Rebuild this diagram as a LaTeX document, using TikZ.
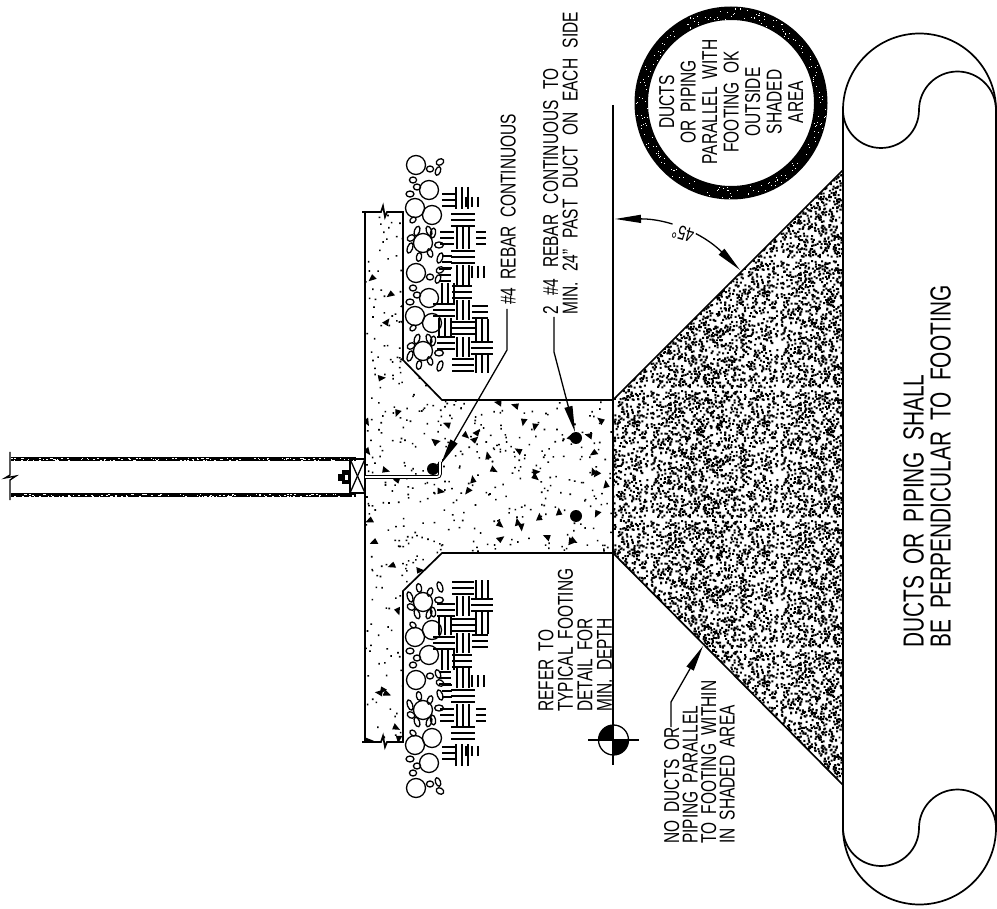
\documentclass[tikz,border=0pt]{standalone}
\usepackage{fontspec}
\setmainfont{Liberation Sans}[FakeStretch=0.72,WordSpace=1.9]
\usetikzlibrary{%
		arrows.meta%
		,patterns%
	}

\pgfdeclarepatternformonly{stipple}{\pgfqpoint{0pt}{0pt}}{\pgfqpoint{130pt}{130pt}}{\pgfqpoint{130pt}{130pt}}{
	\pgfmathsetseed{7}
	\foreach \i in {1,...,1650}{
		\pgfpathrectangle{\pgfpoint{rnd*128pt}{rnd*128pt}}{\pgfqpoint{2pt}{2pt}}
		\pgfusepath{fill}
	}
}

\tikzset{
	heavyline/.style={line width=1.7pt, line join=miter},
	thinline/.style={line width=1.3pt},
	note/.style={rotate=90, inner sep=0pt, anchor=south west, align=left, font=\fontsize{21.5}{19.5}\selectfont},
	bignote/.style={note, font=\fontsize{29}{27}\selectfont},
	leader/.style={thinline, -{Triangle[length=26pt,width=8pt]}},
	gravelbed/.pic={
		% stones, two rounds
		\foreach \s in {0,108}{
			\begin{scope}[yshift=-\s pt]
				\foreach \x/\y in {416/165,429/190,415/208,432/215,423/243}
					\draw[thinline] (\x,\y) circle (9.5);
				\foreach \x/\y/\rx/\ry/\a in {440/162/4/3/30,430/169/3.6/3/0,438/171/4.5/2.5/70,413/180/3.6/3/0,417/187/3.6/3/0,410/194/4/3/0,413/220/3.5/2.5/40,417/231/5/2.6/70,411/238/4/3/30,429/231/5/2.6/110,433/233/5/2.6/80,439/245/4.4/3/0,410/248/5.4/2.6/70,419/257/4.4/2.6/80,430/253/4.4/2.6/110,440/258/5.4/2.6/70}
					\draw[thinline, rotate around={\a:(\x,\y)}] (\x,\y) ellipse (\rx pt and \ry pt);
			\end{scope}
		}
		% woven layer
		\foreach \x/\y/\l in {463/220/12,463/257/12,462/292/10,444/310/11,480/312/8,463/328/12,446/343/9,482/348/11,463/365/11,447/238/7,481/238/5,449/200/7,447/262/5,445/275/6}{
			\draw[thinline] (\x-\l,\y-6) -- (\x+\l,\y-6);
			\draw[thinline] (\x-\l,\y) -- (\x+\l,\y);
			\draw[thinline] (\x-\l,\y+6) -- (\x+\l,\y+6);
		}
		\foreach \x/\y/\l in {462/198/11,463/238/11,463/275/10,448/293/10,463/310/10,445/328/10,482/330/11,463/347/10,482/364/9,472/202/5,478/272/6}{
			\draw[thinline] (\x-6,\y-\l) -- (\x-6,\y+\l);
			\draw[thinline] (\x,\y-\l) -- (\x,\y+\l);
			\draw[thinline] (\x+6,\y-\l) -- (\x+6,\y+\l);
		}
	}
}

\begin{document}
\begin{tikzpicture}[x=1pt, y=-1pt]
	\useasboundingbox (0,0) rectangle (997,909);
	\pgfmathsetseed{7}
	% shaded area under the footing
	\fill[pattern=stipple] (613,400) -- (843,170) -- (843,785) -- (613,553) -- cycle;
	\draw[heavyline] (613,400) -- (843,170);
	\draw[heavyline] (613,553) -- (843,785);
	% concrete
	\begin{scope}
		\clip (365,212) -- (403,212) -- (403,360) -- (442,400) -- (613,400) -- (613,553) -- (442,553) -- (403,591) -- (403,742) -- (365,742) -- cycle;
		\foreach \i in {1,...,55}
			\fill \foreach \j in {1,...,20} {(365+rnd*248,212+rnd*530) rectangle ++(1.6,1.6)};
		\foreach \i in {1,...,130}{
			\pgfmathsetmacro{\turn}{rnd*360}
			\pgfmathsetmacro{\px}{365+rnd*248}
			\pgfmathsetmacro{\py}{212+rnd*530}
			\fill[shift={(\px,\py)}, rotate=\turn] (-3.5,-3) -- (4.5,0) -- (-2.5,3.5) -- cycle;
		}
	\end{scope}
	% footing outline
	\draw[heavyline] (362,212) -- (381,212) -- (383,206) -- (385,217) -- (387,212) -- (403,212) -- (403,360) -- (442,400) -- (613,400);
	\draw[heavyline] (362,742) -- (381,742) -- (383,736) -- (385,747) -- (387,742) -- (403,742) -- (403,591) -- (442,553) -- (613,553);
	\draw[heavyline] (365,212) -- (365,742);
	% soil side
	\pic at (0,0) {gravelbed};
	\pic[yscale=-1] at (0,953) {gravelbed};
	% wall
	\fill (11,457) rectangle (356,461);
	\fill (11,493) rectangle (356,497);
	\foreach \i in {1,...,110}{
		\fill[white] (11+rnd*345,457.5+rnd*3) rectangle ++(1.6,0.8);
		\fill[white] (11+rnd*345,493.5+rnd*3) rectangle ++(1.6,0.8);
	}
	\draw[thinline] (10,452) -- (10,475) -- (5,478) -- (16,476) -- (10,480) -- (10,500);
	% sill plate
	\draw[thinline] (350,459) rectangle (365,493);
	\draw[thinline] (350,459) -- (365,493);
	\draw[thinline] (365,459) -- (350,493);
	\fill (349,470) rectangle (342,484);
	\fill (342,474) rectangle (338,481);
	\fill[white] (344.5,475) rectangle (348,480);
	% anchor bolt
	\draw[line width=1pt, double=white, double distance=1.6pt, rounded corners=3] (365,477) -- (440,477) -- (440,462);
	% rebar
	\fill (433,469) circle (6);
	\fill (576,438) circle (6);
	\fill (576,516) circle (6);
	% depth line
	\coordinate (depthtop) at (613,105);
	\coordinate (depthend) at (613,765);
	\draw[heavyline] (depthtop) -- (depthend);
	% section mark
	\coordinate (markcentre) at (613.5,740);
	\fill (markcentre) -- ++(180:15) arc (180:270:15) -- cycle;
	\fill (markcentre) -- ++(0:15) arc (0:90:15) -- cycle;
	\draw[thinline] (markcentre) circle (15);
	\coordinate (markleft) at (588,740);
	\coordinate (markright) at (639,740);
	\draw[thinline] (markleft) -- (markright);
	% angle
	\coordinate (angletop) at (615,219);
	\coordinate (angleend) at (740,270);
	\draw[thinline, {Triangle[length=26pt,width=8pt]}-{Triangle[length=26pt,width=8pt]}] (angletop) to[bend left=22.5] (angleend);
	\node[fill=white, inner sep=1.5pt, rotate=165, font=\fontsize{20}{20}\selectfont] (anglenote) at (683,233) {45°};
	% circle
	\fill[even odd rule] (731,103) circle (96.5) (731,103) circle (83);
	\begin{scope}[shift={(731,103)}]
		\foreach \i in {1,...,200}
			\fill[white] (rnd*360:84+rnd*11.5) rectangle ++(1,1);
	\end{scope}
	\node[rotate=90, inner sep=0pt, align=center, font=\fontsize{21.5}{21.5}\selectfont] (circlenote) at (731,102) {DUCTS\\OR PIPING\\PARALLEL WITH\\FOOTING OK\\OUTSIDE\\SHADED\\AREA};
	% scroll
	\draw[heavyline] (843,828) -- (843,110) arc (180:360:76.5) -- (996,828) arc (0:180:76.5);
	\draw[heavyline] (843,110) arc (180:0:38) arc (180:360:38.5);
	\draw[heavyline] (843,828) arc (180:0:38) arc (180:360:38.5);
	% texts
	\node[bignote] (ductsnote) at (951,648) {DUCTS OR PIPING SHALL\\BE PERPENDICULAR TO FOOTING};
	\node[note] (refernote) at (612,712) {REFER TO\\TYPICAL FOOTING\\DETAIL FOR\\MIN. DEPTH};
	\node[note, font=\fontsize{21.5}{18.5}\selectfont] (nonote) at (735,844) {NO DUCTS OR\\PIPING PARALLEL\\TO FOOTING WITHIN\\IN SHADED AREA};
	\node[note] (barnote) at (516,305) {\#4 REBAR CONTINUOUS};
	\node[note] (twobarnote) at (578,315) {\spaceskip 10.5pt\relax 2 \#4 REBAR CONTINUOUS TO\\\spaceskip 10.5pt\relax MIN. 24" PAST DUCT ON EACH SIDE};
	% leaders
	\coordinate (barstart) at (507,309);
	\coordinate (barbend) at (507,350);
	\coordinate (bartip) at (441,464);
	\draw[leader] (barstart) -- (barbend) -- (bartip);
	\coordinate (twobarstart) at (554,317);
	\coordinate (twobarbend) at (554,352);
	\coordinate (twobartip) at (575,432);
	\draw[leader] (twobarstart) -- (twobarbend) -- (twobartip);
	\coordinate (nostart) at (671,727);
	\coordinate (nobend) at (671,702);
	\coordinate (notip) at (703,646);
	\draw[leader] (nostart) -- (nobend) -- (notip);
\end{tikzpicture}
\end{document}
